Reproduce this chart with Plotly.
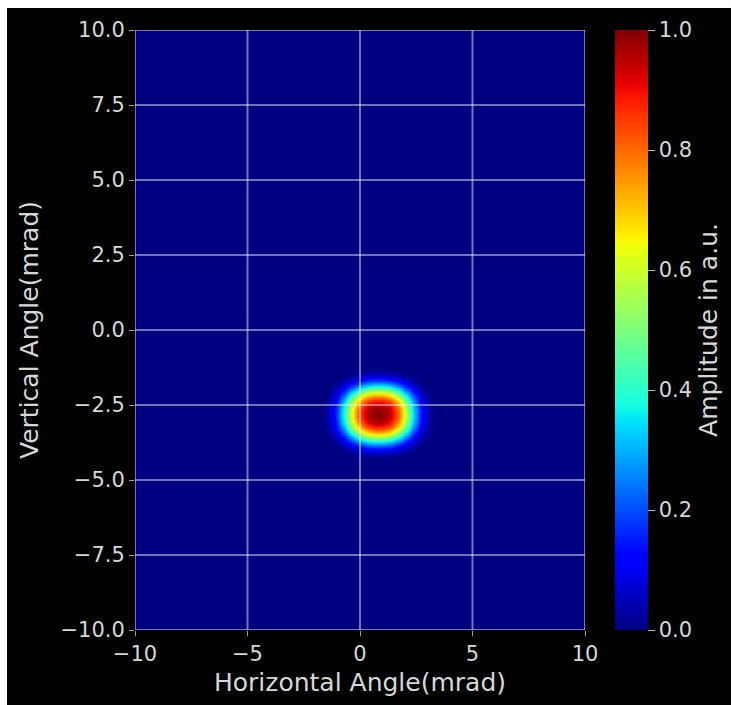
import numpy as np
import plotly.graph_objects as go

# ---- data ----
# beam spot: peak position, half-widths to the visible edge, radial amplitude profile
spot_x, spot_y = 0.8, -2.8          # mrad
half_w_x, half_w_y = 2.4, 1.45      # mrad
radius_norm = [0.0, 0.15, 0.25, 0.35, 0.45, 0.55, 0.65, 0.75, 0.85, 0.95, 1.05]
amplitude = [1.0, 0.97, 0.92, 0.83, 0.69, 0.52, 0.35, 0.20, 0.09, 0.03, 0.0]

x_ticks = [-10, -5, 0, 5, 10]
y_ticks = [-10.0, -7.5, -5.0, -2.5, 0.0, 2.5, 5.0, 7.5, 10.0]
cb_ticks = [0.0, 0.2, 0.4, 0.6, 0.8, 1.0]

gx = np.arange(spot_x - 2.9, spot_x + 2.91, 0.1)
gy = np.arange(spot_y - 1.8, spot_y + 1.81, 0.05)
XX, YY = np.meshgrid(gx, gy)
p = 2.3
rr = (np.abs((XX - spot_x) / half_w_x) ** p + np.abs((YY - spot_y) / half_w_y) ** p) ** (1 / p)
z = np.interp(rr, radius_norm, amplitude, right=0.0)

# matplotlib "jet" colour scale
_r = [(0, 0), (0.35, 0), (0.66, 1), (0.89, 1), (1, 0.5)]
_g = [(0, 0), (0.125, 0), (0.375, 1), (0.64, 1), (0.91, 0), (1, 0)]
_b = [(0, 0.5), (0.11, 1), (0.34, 1), (0.65, 0), (1, 0)]
stops = sorted(set([s for s, _ in _r + _g + _b]))
def _ch(seg, s):
    return np.interp(s, [q for q, _ in seg], [v for _, v in seg])
jet = [[s, "rgb(%d,%d,%d)" % (round(255 * _ch(_r, s)), round(255 * _ch(_g, s)), round(255 * _ch(_b, s)))]
       for s in stops]

txt = "rgb(215,215,215)"
grid = "rgba(255,255,255,0.45)"

fig = go.Figure(go.Heatmap(
    x=gx, y=gy, z=z, zmin=0, zmax=1, zsmooth="best",
    colorscale=jet,
    colorbar=dict(
        x=1.0667, xanchor="left", xref="paper", y=0.5, yanchor="middle", len=1.0,
        xpad=0, ypad=0,
        thickness=33, outlinewidth=0,
        tickvals=cb_ticks, tickformat=".1f", ticks="outside", ticklen=7,
        tickcolor="rgb(180,180,180)",
        tickfont=dict(family="DejaVu Sans", size=21, color=txt),
        title=dict(text="Amplitude in a.u.", side="right",
                   font=dict(family="DejaVu Sans", size=25, color=txt)),
    ),
))

shapes = []
for v in x_ticks:
    shapes.append(dict(type="line", xref="x", yref="paper", x0=v, x1=v, y0=0, y1=1,
                       line=dict(color=grid, width=2), layer="above"))
for v in y_ticks:
    shapes.append(dict(type="line", xref="paper", yref="y", x0=0, x1=1, y0=v, y1=v,
                       line=dict(color=grid, width=2), layer="above"))
# thin white border of the original picture (left and top edges)
shapes.append(dict(type="rect", xref="paper", yref="paper", x0=-0.3, x1=-0.2844, y0=-0.13, y1=1.05,
                   fillcolor="white", line=dict(width=0), layer="above"))
shapes.append(dict(type="rect", xref="paper", yref="paper", x0=-0.3, x1=1.3244, y0=1.0367, y1=1.05,
                   fillcolor="white", line=dict(width=0), layer="above"))

fig.update_layout(
    width=731, height=705,
    margin=dict(l=135, r=146, t=30, b=75, autoexpand=False),
    paper_bgcolor="black", plot_bgcolor="rgb(0,0,128)",
    font=dict(family="DejaVu Sans", color=txt),
    shapes=shapes,
    xaxis=dict(range=[-10, 10], tickvals=x_ticks, showgrid=False, zeroline=False,
               ticks="outside", ticklen=5, tickcolor="rgb(160,160,160)",
               tickfont=dict(size=21, color=txt),
               title=dict(text="Horizontal Angle(mrad)", font=dict(size=25, color=txt), standoff=8)),
    yaxis=dict(range=[-10, 10], tickvals=y_ticks, tickformat=".1f", showgrid=False, zeroline=False,
               ticks="outside", ticklen=5, tickcolor="rgb(160,160,160)",
               tickfont=dict(size=21, color=txt),
               title=dict(text="Vertical Angle(mrad)", font=dict(size=25, color=txt), standoff=14)),
)

fig.write_html("out.html")
